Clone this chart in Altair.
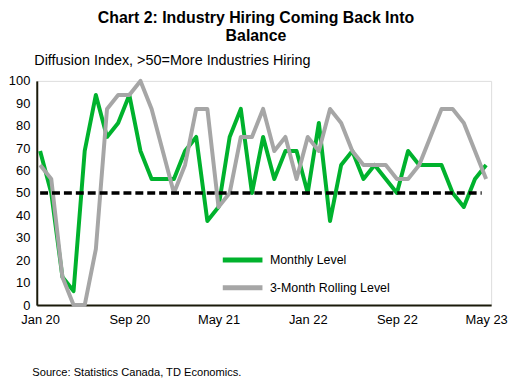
import altair as alt
import pandas as pd

# Month index 0 = Jan 2020 ... 40 = May 2023
monthly = [68.75, 50, 12.5, 6.25, 68.75, 93.75, 75, 81.25, 93.75, 68.75,
           56.25, 56.25, 56.25, 68.75, 75, 37.5, 43.75, 75, 87.5, 50,
           75, 56.25, 68.75, 68.75, 50, 81.25, 37.5, 62.5, 68.75, 56.25,
           62.5, 56.25, 50, 68.75, 62.5, 62.5, 62.5, 50, 43.75, 56.25,
           62.5]
rolling = [62.5, 56.25, 12.5, 0, 0, 25, 87.5, 93.75, 93.75, 100,
           87.5, 68.75, 50, 62.5, 87.5, 87.5, 43.75, 50, 75, 75,
           87.5, 68.75, 75, 56.25, 75, 68.75, 87.5, 81.25, 68.75, 62.5,
           62.5, 62.5, 56.25, 56.25, 62.5, 75, 87.5, 87.5, 81.25, 68.75,
           56.25]
series_names = ["Monthly Level", "3-Month Rolling Level"]
series_colors = ["#00B22D", "#A6A6A6"]
tick_pos = [0, 8, 16, 24, 32, 40]
tick_labels = ["Jan 20", "Sep 20", "May 21", "Jan 22", "Sep 22", "May 23"]
y_ticks = [0, 10, 20, 30, 40, 50, 60, 70, 80, 90, 100]
ref_level = 50

n = len(monthly)
df_m = pd.DataFrame({"idx": list(range(n)), "value": monthly, "series": series_names[0]})
df_r = pd.DataFrame({"idx": list(range(n)), "value": rolling, "series": series_names[1]})
df_ref = pd.DataFrame({"idx": [0], "idx2": [39.6], "value": [ref_level]})

FONT = "Liberation Sans"
label_expr = "{" + ",".join(f"'{p}':'{l}'" for p, l in zip(tick_pos, tick_labels)) + "}[''+datum.value]"

x_axis = alt.Axis(values=tick_pos, labelExpr=label_expr, ticks=False, grid=False,
                  domainColor="#1a1a0a", domainWidth=2,
                  labelFont=FONT, labelFontSize=13, labelColor="#000000",
                  labelPadding=9, labelFlush=False, labelOverlap=False,
                  title="Source: Statistics Canada, TD Economics.",
                  titleFont=FONT, titleFontSize=11.2, titleFontWeight="normal",
                  titleColor="#000000", titleAnchor="start", titleAlign="left",
                  titleBaseline="alphabetic", titleX=-5, titleY=71)
y_axis = alt.Axis(values=y_ticks, tickCount=11, ticks=False, grid=False,
                  domainColor="#1a1a0a", domainWidth=2,
                  labelFont=FONT, labelFontSize=13, labelColor="#000000",
                  labelPadding=7, labelOverlap=False,
                  title="Diffusion Index, >50=More Industries Hiring",
                  titleFont=FONT, titleFontSize=14.5, titleFontWeight="normal",
                  titleColor="#000000", titleAngle=0, titleAlign="left",
                  titleBaseline="alphabetic", titleX=-3, titleY=-17)
x_scale = alt.Scale(domain=[-0.3, 40.45], nice=False, zero=False)
y_scale = alt.Scale(domain=[0, 100], nice=False)

x_enc = alt.X("idx:Q", scale=x_scale, axis=x_axis)
y_enc = alt.Y("value:Q", scale=y_scale, axis=y_axis)
color_enc = alt.Color("series:N",
                      scale=alt.Scale(domain=series_names, range=series_colors),
                      legend=alt.Legend(title=None, orient="none", legendX=185, legendY=170,
                                        symbolType="M-1,0H4", symbolSize=256,
                                        symbolStrokeWidth=5, labelFont=FONT,
                                        labelFontSize=12.5, labelColor="#000000",
                                        labelOffset=29, rowPadding=7))

ref = alt.Chart(df_ref).mark_rule(
    color="#000000", strokeWidth=3.5, strokeDash=[8, 4]
).encode(x=x_enc, x2="idx2:Q", y=y_enc)

line_m = alt.Chart(df_m).mark_line(strokeWidth=4, strokeJoin="round").encode(
    x=x_enc, y=y_enc, color=color_enc)
line_r = alt.Chart(df_r).mark_line(strokeWidth=4, strokeJoin="round").encode(
    x=x_enc, y=y_enc, color=color_enc)

chart = alt.layer(line_m, line_r, ref).properties(
    width=458, height=226,
    autosize=alt.AutoSizeParams(type="none"),
    padding={"left": 29, "top": 72, "right": 17, "bottom": 72},
    title=alt.TitleParams(["Chart 2: Industry Hiring Coming Back Into", "Balance"],
                          font=FONT, fontSize=16, fontWeight="bold", color="#000000",
                          anchor="middle", dx=-8, offset=8, lineHeight=18),
).configure_view(stroke=None).configure(background="white").configure_axisY(labelOverlap=False)

chart.save("out.html", embed_options={"renderer": "svg", "actions": False})
